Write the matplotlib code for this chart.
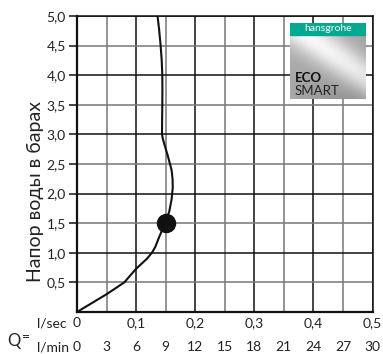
import numpy as np
import matplotlib.pyplot as plt

# flow curve (l/min, bar)
flow = [0, 1.5, 3.0, 4.8, 6.0, 7.1, 7.6, 7.95, 8.3, 8.95, 9.37, 9.6, 9.72,
        9.7, 9.6, 9.44, 9.2, 8.93, 8.72, 8.63, 8.64, 8.66, 8.67, 8.66, 8.6,
        8.49, 8.35, 8.18]
pressure = [0, 0.15, 0.3, 0.5, 0.73, 0.9, 1.0, 1.1, 1.25, 1.5, 1.7, 1.9, 2.1,
            2.25, 2.4, 2.5, 2.65, 2.8, 2.92, 3.0, 3.25, 3.5, 3.75, 4.0, 4.25,
            4.5, 4.75, 5.0]
point = (9, 1.5)

lmin_ticks = [0, 3, 6, 9, 12, 15, 18, 21, 24, 27, 30]
lsec_labels = ['0', '0,1', '0,2', '0,3', '0,4', '0,5']
y_ticks = [0.5, 1.0, 1.5, 2.0, 2.5, 3.0, 3.5, 4.0, 4.5, 5.0]

plt.rcParams['font.family'] = ['Lato', 'DejaVu Sans']
txt = '#222222'

fig = plt.figure(figsize=(3.83, 3.54), dpi=100)
ax = fig.add_axes([77/383, 1-312/354, 295.5/383, 296/354])

# grid: heavy lines on whole values, grey on the rest
for x in lmin_ticks[1:]:
    c = '#111111' if x % 6 == 0 else '#777777'
    ax.axvline(x, color=c, lw=1.1, zorder=1)
for y in y_ticks:
    c = '#111111' if y % 1 == 0 else '#777777'
    ax.axhline(y, color=c, lw=1.1, zorder=1)

ax.plot(flow, pressure, color='#111111', lw=1.5, zorder=3)
ax.plot(*point, 'o', color='#111111', ms=13, zorder=4)

ax.set_xlim(0, 30)
ax.set_ylim(0, 5)
for s in ax.spines.values():
    s.set_color('#111111')
    s.set_linewidth(1.1)
ax.spines['left'].set_linewidth(1.6)
ax.spines['bottom'].set_linewidth(1.6)

ax.set_yticks(y_ticks)
ax.set_yticklabels([f'{v:.1f}'.replace('.', ',') for v in y_ticks], fontsize=10, color=txt)
ax.tick_params(axis='y', length=6, width=1.1, color='#111111', pad=2)
ax.set_xticks([])

# two rows of flow labels under the axis
for i, lab in enumerate(lsec_labels):
    ax.text(i * 6, 0, lab, ha='center', va='center', fontsize=10, color=txt,
            transform=ax.get_xaxis_transform() + plt.matplotlib.transforms.ScaledTranslation(0, -11/100, fig.dpi_scale_trans),
            clip_on=False)
for v in lmin_ticks:
    ax.text(v, 0, str(v), ha='center', va='center', fontsize=10, color=txt,
            transform=ax.get_xaxis_transform() + plt.matplotlib.transforms.ScaledTranslation(0, -35/100, fig.dpi_scale_trans),
            clip_on=False)

fig.text(35/383, 1-192/354, 'Напор воды в барах', rotation=90, fontsize=14,
         color=txt, ha='center', va='center')

fig.text(7/383, 1-341/354, 'Q', fontsize=12, va='center', color=txt)
fig.text(22/383, 1-337/354, '=', fontsize=10, va='center', color=txt)
fig.text(37/383, 1-323/354, 'l/sec', fontsize=10, va='center', color=txt)
fig.text(37/383, 1-347/354, 'l/min', fontsize=10, va='center', color=txt)

# logo
lax = fig.add_axes([290/383, 1-99/354, 76/383, 76/354])
yy, xx = np.mgrid[0:1:100j, 0:1:100j]
d = xx * 0.55 - (1 - yy) * 0.8
grad = 0.66 + 0.32 * np.exp(-((d + 0.02) / 0.22) ** 2) - 0.12 * (1 - yy) * xx
lax.imshow(grad, cmap='gray', vmin=0, vmax=1, extent=[0, 1, 0, 1], aspect='auto', origin='lower')
lax.add_patch(plt.Rectangle((0, 1 - 12/76), 1, 12/76, color='#00a98f'))
lax.text(0.5, 1 - 6/76, 'hansgrohe', ha='center', va='center', color='white', fontsize=7.5)
lax.text(0.06, 0.27, 'ECO', fontsize=9.5, fontweight='bold', color='#111111', va='center')
lax.text(0.06, 0.11, 'SMART', fontsize=9.5, color='#222222', va='center')
lax.set_xlim(0, 1)
lax.set_ylim(0, 1)
lax.axis('off')

fig.savefig('out.png', dpi=100)
